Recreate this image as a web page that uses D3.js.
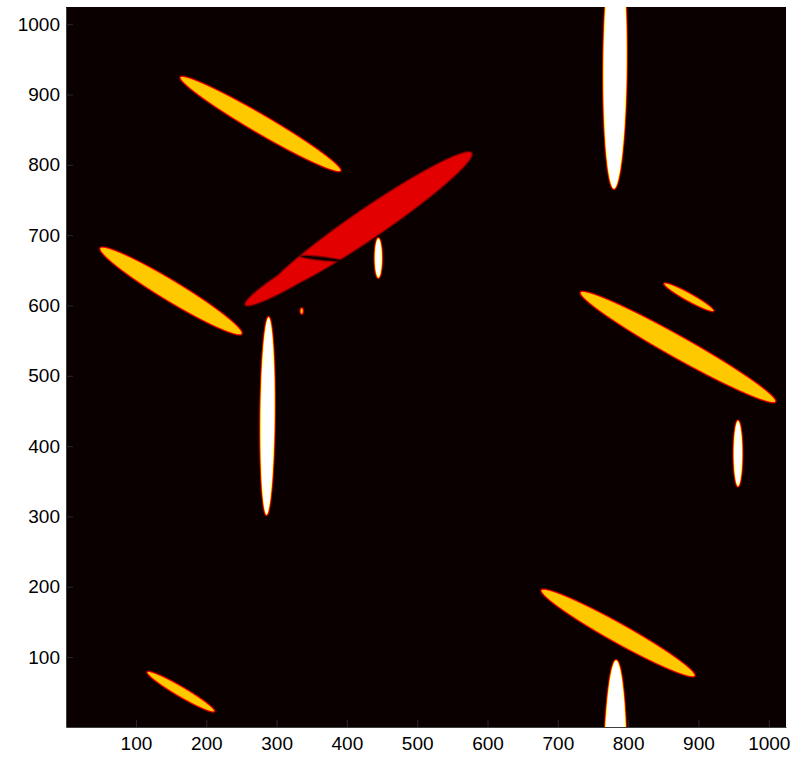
<!DOCTYPE html>
<head>
  <meta charset="utf-8">
  <script src="https://d3js.org/d3.v7.min.js"></script>
  <style>
    body { margin: 0; background: #fff; }
  </style>
</head>
<body>

<div id="my_dataviz"></div>

<script>

  // ellipses of the image, in pixel units of the 1024 x 1024 picture
  var centerX   = [277.1, 431.1, 333.3, 363.2, 444.7, 335.7, 149.8, 287.1, 781.3, 781.3, 886.3, 870.9, 956.2, 785.6, 163.8];
  var centerY   = [858.1, 717.0, 647.6, 666.8, 667.5, 592.1, 620.6, 442.8, 942.7, -81.3, 611.8, 540.9, 389.5, 134.2, 50.7];
  var semiMajor = [132.3, 177.5, 91.0, 28.4, 28.4, 4.5, 118.0, 140.8, 177.1, 177.1, 40.5, 159.3, 46.9, 125.2, 55.5];
  var semiMinor = [13.4, 21.5, 13.0, 2.6, 5.6, 2.4, 14.6, 10.6, 17.1, 17.1, 5.7, 15.6, 6.6, 13.8, 7.1];
  var angleDeg  = [-30.3, 34.3, 31, -6.4, 90, 90, -31.2, 89.4, 89.5, 89.5, -29, -29.3, 90, -29.2, -30.4];
  var intensity = [0.67, 0.33, 0.33, -1, 1.0, 0.67, 0.67, 1.0, 1.0, 1.0, 0.67, 0.67, 1.0, 0.67, 0.67];

  var xTicks = [100, 200, 300, 400, 500, 600, 700, 800, 900, 1000];
  var yTicks = [100, 200, 300, 400, 500, 600, 700, 800, 900, 1000];

  // set the dimensions and margins of the graph
  var margin = {top: 7, right: 15, bottom: 31, left: 66},
    width = 720,
    height = 720;

  var svg = d3.select("#my_dataviz")
  .append("svg")
    .attr("width", 801)
    .attr("height", 758)
  .append("g")
    .attr("transform", "translate(" + margin.left + "," + margin.top + ")");

  var x = d3.scaleLinear().domain([0.5, 1024.5]).range([0, width]);
  var y = d3.scaleLinear().domain([0.5, 1024.5]).range([height, 0]);

  // MATLAB 'hot' colormap
  var hot = d3.scaleLinear()
    .domain([0, 0.375, 0.75, 1])
    .range(["#0b0000", "#ff0000", "#ffff00", "#ffffff"])
    .clamp(true);

  var ellipses = centerX.map(function(d, i) {
    var t = angleDeg[i] * Math.PI / 180;
    return {cx: d, cy: centerY[i], a: semiMajor[i], b: semiMinor[i],
            c: Math.cos(t), s: Math.sin(t), v: intensity[i]};
  });

  var edge = 3.5; // soft edge, in image pixels

  function coverage(e, px, py) {
    var dx = px - e.cx, dy = py - e.cy;
    var u = (dx * e.c + dy * e.s) / e.a;
    var v = (-dx * e.s + dy * e.c) / e.b;
    var r = Math.sqrt(u * u + v * v);
    if (r > 3) return 0;
    var d;
    if (r < 1e-6) d = -Math.min(e.a, e.b);
    else {
      var g = Math.sqrt((u / e.a) * (u / e.a) + (v / e.b) * (v / e.b)) / r;
      d = (r - 1) / g;
    }
    return Math.max(0, Math.min(1, 0.5 - d / edge));
  }

  // draw the picture on a canvas through the scales
  var canvas = document.createElement("canvas");
  canvas.width = width;
  canvas.height = height;
  var ctx = canvas.getContext("2d");
  var img = ctx.createImageData(width, height);

  for (var j = 0; j < height; j++) {
    var py = y.invert(j + 0.5);
    for (var i = 0; i < width; i++) {
      var px = x.invert(i + 0.5);
      var val = 0, cut = 0;
      ellipses.forEach(function(e) {
        var k = coverage(e, px, py);
        if (k <= 0) return;
        if (e.v > 0) val = Math.max(val, k * e.v);
        else cut = Math.max(cut, k);
      });
      val = val * (1 - cut);
      var col = d3.rgb(hot(val));
      var p = (j * width + i) * 4;
      img.data[p] = col.r;
      img.data[p + 1] = col.g;
      img.data[p + 2] = col.b;
      img.data[p + 3] = 255;
    }
  }
  ctx.putImageData(img, 0, 0);

  svg.append("image")
    .attr("x", 0)
    .attr("y", 0)
    .attr("width", width)
    .attr("height", height)
    .attr("preserveAspectRatio", "none")
    .attr("href", canvas.toDataURL());

  // BUILD AXIS
  var xAxis = svg.append("g")
    .attr("transform", "translate(0," + height + ")")
    .call(d3.axisBottom(x).tickValues(xTicks).tickFormat(d3.format("d"))
      .tickSizeInner(-7).tickSizeOuter(0).tickPadding(10));

  var yAxis = svg.append("g")
    .call(d3.axisLeft(y).tickValues(yTicks).tickFormat(d3.format("d"))
      .tickSizeInner(-7).tickSizeOuter(0).tickPadding(6));

  [xAxis, yAxis].forEach(function(g) {
    g.selectAll("text")
      .style("font-family", "'Liberation Sans', Arial, Helvetica, sans-serif")
      .style("font-size", "19px")
      .style("fill", "#000");
    g.selectAll(".tick line").style("stroke", "#2a2a2a");
    g.select(".domain").style("stroke", "#404040");
  });

</script>

</body>
